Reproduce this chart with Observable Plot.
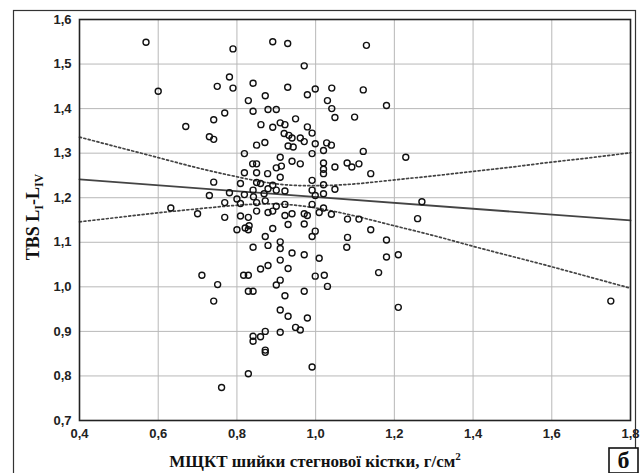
<!DOCTYPE html>
<html>
<head>
<meta charset="utf-8">
<script src="https://cdn.jsdelivr.net/npm/d3@7"></script>
<script src="https://cdn.jsdelivr.net/npm/@observablehq/plot@0.6"></script>
<style>
  html, body { margin: 0; padding: 0; background: #fff; }
  #chart svg { display: block; }
</style>
</head>
<body>
<div id="chart"></div>
<script>
// Scatter points: МЩКТ (x) and TBS (y)
const bmdX = [
  0.569,0.600,0.790,0.891,0.929,0.971,0.781,0.750,0.790,0.841,
  0.929,0.999,0.979,0.829,0.872,0.769,0.841,0.879,0.900,0.741,
  0.670,0.861,0.949,0.891,0.910,0.922,0.979,0.991,0.730,0.741,
  0.850,0.871,0.920,0.932,0.940,0.961,0.971,0.999,0.930,0.943,
  0.819,0.991,0.840,0.850,0.910,0.940,0.961,0.900,0.850,0.819,
  0.878,0.910,0.741,0.809,0.850,0.860,0.891,0.991,0.730,0.781,
  0.819,0.841,0.869,0.879,0.900,0.922,0.991,0.999,0.632,0.700,
  0.769,0.800,0.809,0.850,0.872,0.900,0.922,0.991,0.769,0.809,
  0.829,0.850,0.879,0.891,0.922,0.940,0.971,0.979,1.009,0.800,
  0.821,0.829,0.872,0.891,0.930,0.971,0.999,0.991,
  0.841,0.879,0.910,0.910,0.940,0.971,1.009,0.860,0.879,0.910,
  0.930,0.711,0.817,0.829,0.910,0.900,0.999,0.751,0.829,0.841,
  0.922,0.971,0.741,0.910,0.930,0.979,0.949,0.961,0.910,0.872,
  0.860,0.841,0.841,0.872,0.872,0.991,0.829,0.761,1.022,1.030,
  1.129,1.041,1.121,1.180,1.030,1.041,1.049,1.099,1.028,1.040,
  1.020,1.121,1.229,1.020,1.049,1.080,1.092,1.110,1.020,1.020,
  1.140,1.020,1.049,1.020,1.270,1.020,1.040,1.081,1.110,1.259,
  1.140,1.081,1.180,1.079,1.180,1.210,1.160,1.210,1.750,
  0.842,0.831,0.913
];
const tbsY = [
  1.549,1.439,1.534,1.550,1.546,1.496,1.471,1.450,1.446,1.457,
  1.448,1.444,1.431,1.418,1.429,1.390,1.394,1.398,1.398,1.375,
  1.360,1.364,1.377,1.358,1.368,1.364,1.359,1.345,1.337,1.331,
  1.318,1.324,1.344,1.340,1.334,1.334,1.326,1.321,1.316,1.314,
  1.299,1.299,1.276,1.276,1.291,1.282,1.276,1.267,1.256,1.256,
  1.254,1.246,1.235,1.232,1.234,1.232,1.228,1.239,1.205,1.211,
  1.207,1.217,1.209,1.220,1.217,1.215,1.217,1.205,1.177,1.164,
  1.189,1.197,1.187,1.189,1.193,1.181,1.185,1.185,1.156,1.159,
  1.156,1.170,1.167,1.170,1.160,1.164,1.164,1.160,1.167,1.128,
  1.132,1.128,1.113,1.131,1.140,1.141,1.125,1.113,
  1.089,1.093,1.101,1.086,1.076,1.072,1.064,1.040,1.048,1.060,
  1.041,1.026,1.026,1.026,1.015,1.004,1.024,1.005,0.990,0.990,
  0.980,0.990,0.968,0.948,0.934,0.930,0.909,0.903,0.898,0.900,
  0.888,0.889,0.878,0.858,0.853,0.820,0.805,0.774,1.026,1.001,
  1.542,1.446,1.442,1.407,1.418,1.400,1.380,1.381,1.323,1.318,
  1.306,1.304,1.291,1.278,1.269,1.278,1.269,1.276,1.264,1.254,
  1.254,1.229,1.219,1.209,1.191,1.177,1.163,1.152,1.152,1.153,
  1.128,1.111,1.105,1.089,1.067,1.072,1.032,0.954,0.968,
  1.202,1.137,1.271
];

// Regression line
const fitX = [0.4, 1.8];
const fitY = [1.241, 1.149];

// 95% confidence band
const bandX = [0.4,0.5,0.6,0.7,0.8,0.9,1.0,1.1,1.2,1.3,1.4,1.5,1.6,1.7,1.8];
const bandUpper = [1.336,1.313,1.290,1.267,1.247,1.231,1.227,1.231,1.240,1.249,1.259,1.269,1.280,1.290,1.301];
const bandLower = [1.146,1.156,1.166,1.175,1.183,1.186,1.177,1.159,1.137,1.115,1.091,1.068,1.045,1.021,0.997];

// Axis ticks
const xTicks = [0.4,0.6,0.8,1.0,1.2,1.4,1.6,1.8];
const yTicks = [0.7,0.8,0.9,1.0,1.1,1.2,1.3,1.4,1.5,1.6];

const points = bmdX.map((x, i) => ({x, y: tbsY[i]}));
const fit = fitX.map((x, i) => ({x, y: fitY[i]}));
const upper = bandX.map((x, i) => ({x, y: bandUpper[i]}));
const lower = bandX.map((x, i) => ({x, y: bandLower[i]}));

const comma = d => d.toFixed(1).replace(".", ",");

const svg = Plot.plot({
  width: 642,
  height: 473,
  marginLeft: 79,
  marginRight: 12,
  marginTop: 19,
  marginBottom: 53,
  style: {background: "#fff", fontFamily: "'Liberation Sans', Arial, sans-serif"},
  x: {domain: [0.4, 1.8], ticks: xTicks, label: null},
  y: {domain: [0.7, 1.6], ticks: yTicks, label: null},
  marks: [
    Plot.gridX(xTicks, {stroke: "#b8b8b8", strokeOpacity: 1, strokeWidth: 1}),
    Plot.gridY(yTicks, {stroke: "#b8b8b8", strokeOpacity: 1, strokeWidth: 1}),
    Plot.axisX(xTicks, {tickSize: 0, tickPadding: 8, tickFormat: comma, fontSize: 13, fontWeight: "bold", fill: "#222"}),
    Plot.axisY(yTicks, {tickSize: 0, tickPadding: 8, tickFormat: comma, fontSize: 13, fontWeight: "bold", fill: "#222"}),
    Plot.line(upper, {x: "x", y: "y", curve: "natural", stroke: "#444", strokeWidth: 1.7, strokeDasharray: "2,2.5"}),
    Plot.line(lower, {x: "x", y: "y", curve: "natural", stroke: "#444", strokeWidth: 1.7, strokeDasharray: "2,2.5"}),
    Plot.line(fit, {x: "x", y: "y", stroke: "#444", strokeWidth: 1.8}),
    Plot.dot(points, {x: "x", y: "y", r: 3, stroke: "#111", strokeWidth: 1.4, fill: "none"}),
    Plot.frame({stroke: "#222", strokeWidth: 1.6})
  ]
});

const s = d3.select(svg);
// outer border
s.insert("rect", ":first-child")
  .attr("x", 13.5).attr("y", 10.5).attr("width", 622).attr("height", 470)
  .attr("fill", "#fff").attr("stroke", "#333").attr("stroke-width", 1.2);

// y axis title
const yt = s.append("text")
  .attr("transform", "translate(39,217) rotate(-90)")
  .attr("text-anchor", "middle")
  .attr("font-family", "'Liberation Serif', 'Times New Roman', serif")
  .attr("font-weight", "bold").attr("font-size", 18).attr("fill", "#111");
yt.append("tspan").text("TBS L");
yt.append("tspan").attr("font-size", 12).attr("dy", 4).text("I");
yt.append("tspan").attr("dy", -4).text("-L");
yt.append("tspan").attr("font-size", 12).attr("dy", 4).text("IV");

// x axis title
const xt = s.append("text")
  .attr("x", 315).attr("y", 467)
  .attr("text-anchor", "middle")
  .attr("font-family", "'Liberation Serif', 'Times New Roman', serif")
  .attr("font-weight", "bold").attr("font-size", 17).attr("fill", "#111");
xt.append("tspan").text("МЩКТ шийки стегнової кістки, г/см");
xt.append("tspan").attr("font-size", 11).attr("dy", -7).text("2");

// panel letter box
s.append("rect").attr("x", 609).attr("y", 448).attr("width", 29).attr("height", 25)
  .attr("fill", "#fff").attr("stroke", "#111").attr("stroke-width", 1.6);
s.append("text").attr("x", 623.5).attr("y", 468)
  .attr("text-anchor", "middle")
  .attr("font-family", "'Liberation Serif', 'Times New Roman', serif")
  .attr("font-weight", "bold").attr("font-size", 24).attr("fill", "#111")
  .text("б");

document.getElementById("chart").appendChild(svg);
</script>
</body>
</html>
